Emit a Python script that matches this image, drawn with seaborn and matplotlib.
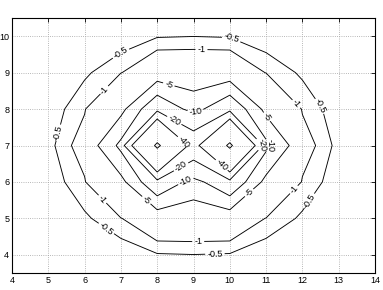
import numpy as np
import matplotlib
matplotlib.use("Agg")
import matplotlib.pyplot as plt
import seaborn as sns

# ---- data ----
x_vals = [4, 5, 6, 7, 8, 9, 10, 11, 12, 13, 14]
y_vals = [4, 5, 6, 7, 8, 9, 10]
z_y4 = [-0.01, -0.02, -0.06, -0.115, -0.45, -0.49, -0.45, -0.115, -0.06, -0.02, -0.01]
z_y5 = [-0.03, -0.08, -0.39, -0.97, -1.9, -1.9, -1.9, -0.97, -0.39, -0.08, -0.03]
z_y6 = [-0.05, -0.148, -0.93, -3.5, -15, -8, -15, -3.5, -0.93, -0.148, -0.05]
z_y7 = [-0.08, -0.3, -1.4, -11.3, -107, -28, -107, -11.3, -1.4, -0.3, -0.08]
z_y8 = [-0.05, -0.148, -0.93, -3.5, -15, -8, -15, -3.5, -0.93, -0.148, -0.05]
z_y9 = [-0.03, -0.08, -0.39, -0.97, -1.9, -1.9, -1.9, -0.97, -0.39, -0.08, -0.03]
z_y10 = [-0.01, -0.02, -0.06, -0.115, -0.45, -0.49, -0.45, -0.115, -0.06, -0.02, -0.01]
levels = [-100, -40, -20, -10, -5, -1, -0.5]
x_ticks = [4, 5, 6, 7, 8, 9, 10, 11, 12, 13, 14]
y_ticks = [4, 5, 6, 7, 8, 9, 10]

# label placement (layout)
label_pos = {
    -0.5: [(6.98, 9.55), (10.05, 9.95), (12.39, 8.03), (5.28, 7.35),
           (6.57, 4.69), (9.59, 4.02), (12.16, 5.5)],
    -1: [(9.22, 9.64), (6.52, 8.54), (11.8, 8.12), (6.48, 5.52),
         (11.75, 5.8), (9.13, 4.35)],
    -5: [(8.31, 8.65), (11.01, 7.78), (7.69, 5.49), (10.56, 5.68)],
    -10: [(9.05, 7.92), (8.77, 6.05), (11.12, 7.0)],
    -20: [(8.45, 7.66), (8.63, 6.45), (10.85, 7.0)],
    -40: [(8.71, 7.08), (9.75, 6.44)],
}

Z = np.array([z_y4, z_y5, z_y6, z_y7, z_y8, z_y9, z_y10])
X, Y = np.meshgrid(x_vals, y_vals)

sns.set_theme(style="white")
plt.rcParams["font.family"] = ["Liberation Sans", "DejaVu Sans"]

fig = plt.figure(figsize=(3.83, 2.90), dpi=100)
ax = fig.add_axes([12 / 383, 17 / 290, 363 / 383, 255 / 290])


def fmt(v):
    return f"{v:g}"


for lev in levels:
    cs = ax.contour(X, Y, Z, levels=[lev], colors="black", linewidths=0.65,
                    linestyles="solid", negative_linestyles="solid")
    if lev in label_pos:
        ax.clabel(cs, manual=label_pos[lev], inline=True, fmt=fmt,
                  fontsize=6.5, inline_spacing=2, colors="black")

ax.set_xlim(4, 14)
ax.set_ylim(3.5, 10.5)
ax.set_xticks(x_ticks)
ax.set_yticks(y_ticks)
ax.grid(True, linestyle=":", color="#a0a0a0", linewidth=0.6)
ax.tick_params(direction="in", top=True, right=True, length=3, width=0.6,
               labelsize=6.5, pad=2, colors="black")
for sp in ax.spines.values():
    sp.set_visible(True)
    sp.set_color("black")
    sp.set_linewidth(0.8)

fig.savefig("out.png", dpi=100)
